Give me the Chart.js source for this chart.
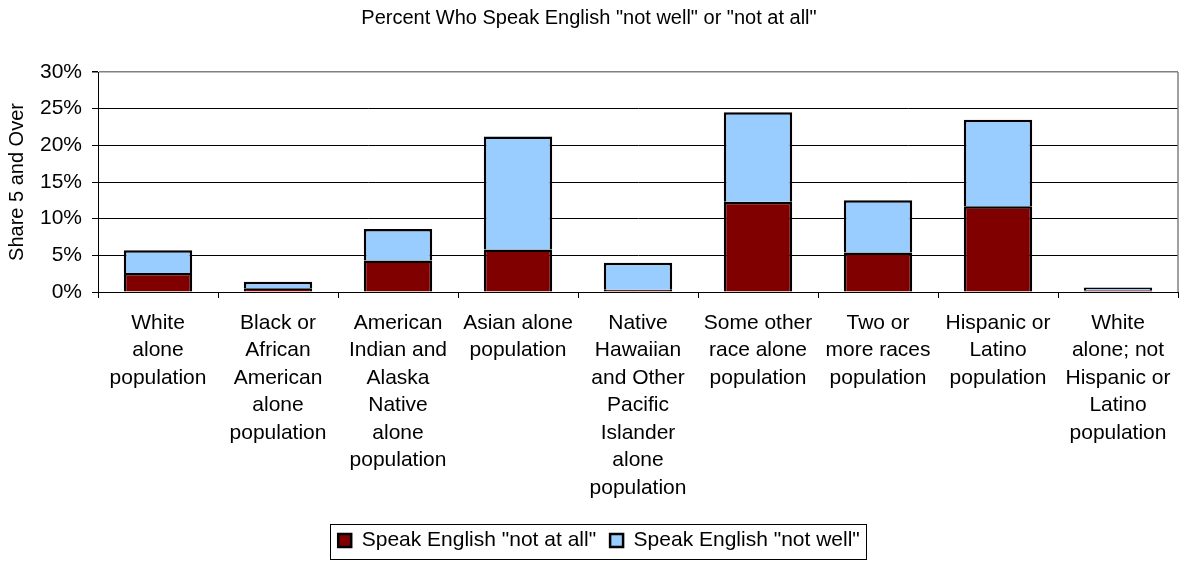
<!DOCTYPE html>
<html>
<head>
<meta charset="utf-8">
<script src="https://cdn.jsdelivr.net/npm/chart.js@4/dist/chart.umd.min.js"></script>
<style>
  html, body { margin: 0; padding: 0; background: #fff; }
  #wrap { width: 1182px; height: 561px; }
</style>
</head>
<body>
<div id="wrap"><canvas id="myChart" width="1182" height="561"></canvas></div>
<script>
// categories (wrapped as in the original)
var categorias = [
  ['White', 'alone', 'population'],
  ['Black or', 'African', 'American', 'alone', 'population'],
  ['American', 'Indian and', 'Alaska', 'Native', 'alone', 'population'],
  ['Asian alone', 'population'],
  ['Native', 'Hawaiian', 'and Other', 'Pacific', 'Islander', 'alone', 'population'],
  ['Some other', 'race alone', 'population'],
  ['Two or', 'more races', 'population'],
  ['Hispanic or', 'Latino', 'population'],
  ['White', 'alone; not', 'Hispanic or', 'Latino', 'population']
];
// percent values
var notAtAll = [2.6, 0.5, 4.3, 5.8, 0.3, 12.3, 5.4, 11.7, 0.25];
var notWell  = [3.1, 0.9, 4.3, 15.4, 3.7, 12.2, 7.1, 11.8, 0.35];
var yTicks = [0, 5, 10, 15, 20, 25, 30];

var FONT = 'Liberation Sans, Arial, sans-serif';
var LEG_PAD = 14;

// grey plot border on the right + box around the legend
var marco = {
  id: 'marco',
  afterUpdate: function(chart) {
    // legend sits a bit right of centre in the original
    chart.legend.left += 10;
    chart.legend.right += 10;
  },
  afterDraw: function(chart) {
    var c = chart.ctx, a = chart.chartArea, lg = chart.legend;
    c.save();
    c.strokeStyle = '#808080';
    c.lineWidth = 1.5;
    c.beginPath();
    c.moveTo(a.right, a.top);
    c.lineTo(a.right, a.bottom);
    c.stroke();
    var lw = lg.lineWidths[0];
    var x0 = (lg.left + LEG_PAD + lg.right - lw) / 2;
    var y0 = lg.top + LEG_PAD - 6;
    c.strokeStyle = '#000';
    c.lineWidth = 1;
    c.strokeRect(Math.round(x0 - 8) + 0.5, Math.round(y0) + 0.5, Math.round(lw - LEG_PAD + 14), 35);
    c.restore();
  }
};

var ctx = document.getElementById('myChart').getContext('2d');
var chart = new Chart(ctx, {
  type: 'bar',
  data: {
    labels: categorias,
    datasets: [{
      label: 'Speak English "not at all"',
      backgroundColor: '#800000',
      borderColor: '#000',
      borderWidth: 2.5,
      data: notAtAll
    }, {
      label: 'Speak English "not well"',
      backgroundColor: '#99CCFF',
      borderColor: '#000',
      borderWidth: 2.5,
      data: notWell
    }]
  },
  options: {
    responsive: false,
    animation: false,
    barPercentage: 0.57,
    categoryPercentage: 1,
    layout: { padding: { left: 0, right: 4, top: 0, bottom: 0 } },
    plugins: {
      title: {
        display: true,
        text: 'Percent Who Speak English "not well" or "not at all"',
        color: '#000',
        font: { family: FONT, size: 20, weight: 'normal' },
        padding: { top: 6, bottom: 42 }
      },
      legend: {
        position: 'bottom',
        labels: {
          color: '#000',
          font: { family: FONT, size: 21 },
          boxWidth: 13,
          boxHeight: 13,
          padding: LEG_PAD
        }
      },
      tooltip: { enabled: false }
    },
    scales: {
      x: {
        stacked: true,
        grid: { drawOnChartArea: false, color: '#000', tickLength: 6 },
        border: { color: '#000', width: 1 },
        ticks: {
          color: '#000',
          maxRotation: 0,
          autoSkip: false,
          padding: 11,
          font: { family: FONT, size: 21, lineHeight: 1.31 }
        },
        afterFit: function(s) { s.height = 224; }
      },
      y: {
        stacked: true,
        min: 0,
        max: 30,
        afterBuildTicks: function(s) { s.ticks = yTicks.map(function(v) { return { value: v }; }); },
        grid: {
          color: function(c) { return c.tick && c.tick.value === 30 ? '#808080' : '#000'; },
          lineWidth: function(c) { return c.tick && c.tick.value === 30 ? 1.5 : 1; },
          tickColor: '#000',
          tickLength: 6
        },
        border: { color: '#000', width: 1 },
        ticks: {
          color: '#000',
          padding: 10,
          font: { family: FONT, size: 21 },
          callback: function(v) { return v + '%'; }
        },
        title: {
          display: true,
          text: 'Share 5 and Over',
          color: '#000',
          font: { family: FONT, size: 20 },
          padding: { top: 5, bottom: 0 }
        },
        afterFit: function(s) { s.width = 98; }
      }
    }
  },
  plugins: [marco]
});
</script>
</body>
</html>
